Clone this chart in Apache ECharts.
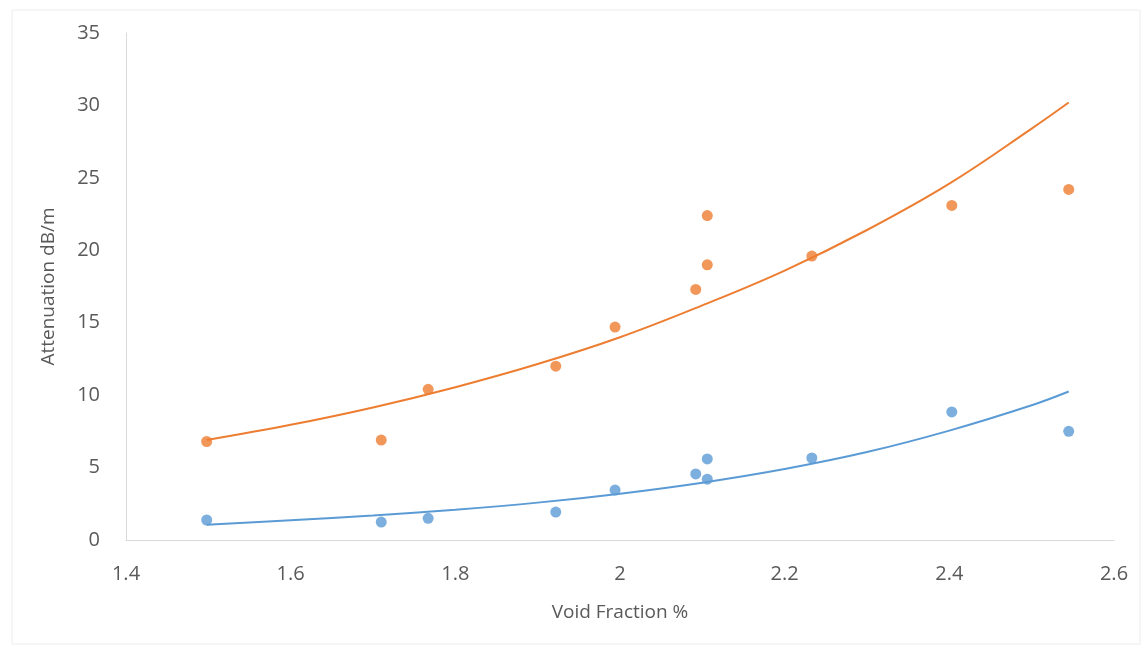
<!DOCTYPE html>
<html>
<head>
<meta charset="utf-8">
<script src="https://cdn.jsdelivr.net/npm/echarts@6/dist/echarts.min.js"></script>
<style>
html,body{margin:0;padding:0;background:#fff;}
#chart{width:1141px;height:645px;}
</style>
</head>
<body>
<div id="chart"></div>
<script>
// Data
const voidFraction = [1.498, 1.71, 1.767, 1.922, 1.994, 2.092, 2.106, 2.106, 2.233, 2.403, 2.545];
const orangeValues = [6.8, 6.9, 10.4, 12.0, 14.7, 17.3, 19.0, 22.4, 19.6, 23.1, 24.2];
const blueValues   = [1.38, 1.24, 1.5, 1.93, 3.45, 4.56, 4.2, 5.6, 5.66, 8.84, 7.5];

// Trendline readings (exponential trendlines as drawn in the reference)
const trendX      = [1.498, 1.6, 1.7, 1.8, 1.9, 2.0, 2.1, 2.2, 2.3, 2.4, 2.5, 2.545];
const orangeTrend = [6.9, 7.95, 9.15, 10.55, 12.15, 14.0, 16.2, 18.6, 21.4, 24.6, 28.4, 30.2];
const blueTrend   = [1.05, 1.36, 1.69, 2.09, 2.58, 3.2, 3.96, 4.9, 6.07, 7.55, 9.3, 10.25];

const xTicks = {min: 1.4, max: 2.6, interval: 0.2};
const yTicks = {min: 0, max: 35, interval: 5};

const pairs = (xs, ys) => xs.map((x, i) => [x, ys[i]]);

const ORANGE = '#ED7D31';
const BLUE = '#5B9BD5';
const FONT = 'Open Sans';
const TXT = '#595959';

const chart = echarts.init(document.getElementById('chart'), null, {renderer: 'canvas'});
chart.setOption({
  backgroundColor: '#fff',
  animation: false,
  graphic: [{
    type: 'rect',
    shape: {x: 12, y: 10, width: 1128, height: 634},
    style: {fill: 'none', stroke: '#ececec', lineWidth: 1},
    silent: true,
    z: -1
  }],
  grid: {left: 126, right: 27, top: 33, bottom: 105},
  xAxis: {
    type: 'value',
    min: xTicks.min, max: xTicks.max, interval: xTicks.interval,
    name: 'Void Fraction %',
    nameLocation: 'middle',
    nameGap: 63,
    nameTextStyle: {color: TXT, fontSize: 19, fontFamily: FONT},
    axisLine: {show: true, lineStyle: {color: '#d9d9d9', width: 1}},
    axisTick: {show: false},
    splitLine: {show: false},
    axisLabel: {
      color: TXT, fontSize: 20, fontFamily: FONT, margin: 24,
      formatter: v => String(Math.round(v * 10) / 10)
    }
  },
  yAxis: {
    type: 'value',
    min: yTicks.min, max: yTicks.max, interval: yTicks.interval,
    name: 'Attenuation dB/m',
    nameLocation: 'middle',
    nameGap: 68,
    nameTextStyle: {color: TXT, fontSize: 19, fontFamily: FONT},
    axisLine: {show: true, lineStyle: {color: '#d9d9d9', width: 1}},
    axisTick: {show: false},
    splitLine: {show: false},
    axisLabel: {color: TXT, fontSize: 20, fontFamily: FONT, margin: 26}
  },
  series: [
    {
      name: 'Orange trend', type: 'line', data: pairs(trendX, orangeTrend),
      smooth: 0.4, showSymbol: false, lineStyle: {color: ORANGE, width: 2}, z: 2
    },
    {
      name: 'Blue trend', type: 'line', data: pairs(trendX, blueTrend),
      smooth: 0.4, showSymbol: false, lineStyle: {color: BLUE, width: 2}, z: 2
    },
    {
      name: 'Orange', type: 'scatter', data: pairs(voidFraction, orangeValues),
      symbolSize: 11, itemStyle: {color: ORANGE}, z: 3
    },
    {
      name: 'Blue', type: 'scatter', data: pairs(voidFraction, blueValues),
      symbolSize: 11, itemStyle: {color: BLUE}, z: 3
    }
  ]
});
</script>
</body>
</html>
